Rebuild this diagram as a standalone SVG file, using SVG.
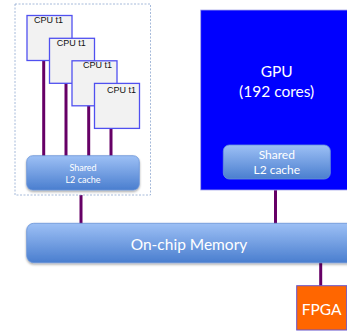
<svg xmlns="http://www.w3.org/2000/svg" width="347" height="333" viewBox="0 0 347 333">
  <style>
    .cpu { fill: #f2f2f2; stroke: #5050f0; stroke-width: 1.3; }
    .cpu-label { font-family: "Liberation Sans", Arial, sans-serif; font-size: 9px; fill: #111; }
    .bus { stroke: #660066; stroke-width: 3; fill: none; }
    .cache { fill: url(#blueGrad); stroke: #6a94d8; stroke-width: 0.8; }
    .white { font-family: Lato, "Open Sans", sans-serif; fill: #ffffff; text-anchor: middle; }
  </style>
  <defs>
    <linearGradient id="blueGrad" x1="0" y1="0" x2="0" y2="1">
      <stop offset="0" stop-color="#9dc0f5"/>
      <stop offset="1" stop-color="#4a7ecf"/>
    </linearGradient>
    <filter id="shadow" x="-5%" y="-20%" width="110%" height="150%">
      <feDropShadow dx="0" dy="1.5" stdDeviation="1.2" flood-color="#000" flood-opacity="0.35"/>
    </filter>
  </defs>

  <rect width="347" height="333" fill="#ffffff"/>

  <!-- connectors -->
  <g id="connectors">
    <line class="bus" x1="43.7" y1="60" x2="43.7" y2="156"/>
    <line class="bus" x1="66" y1="83" x2="66" y2="156"/>
    <line class="bus" x1="88.7" y1="105" x2="88.7" y2="156"/>
    <line class="bus" x1="111" y1="128" x2="111" y2="156"/>
    <line class="bus" x1="81" y1="195" x2="81" y2="224"/>
    <line class="bus" x1="275.5" y1="190" x2="275.5" y2="224"/>
    <line class="bus" x1="320.7" y1="262" x2="320.7" y2="286"/>
  </g>

  <!-- CPU cluster -->
  <g id="cpu-cluster">
    <rect x="15" y="4" width="135.5" height="191" fill="none" stroke="#8fa8d0" stroke-width="0.8" stroke-dasharray="2,1.5"/>
  </g>
  <g id="cpu1">
    <rect class="cpu" x="27" y="15.5" width="45" height="45"/>
    <text class="cpu-label" x="34" y="23">CPU t1</text>
  </g>
  <g id="cpu2">
    <rect class="cpu" x="49.5" y="38.3" width="45" height="45"/>
    <text class="cpu-label" x="56.7" y="45.7">CPU t1</text>
  </g>
  <g id="cpu3">
    <rect class="cpu" x="72" y="60.8" width="45" height="45"/>
    <text class="cpu-label" x="83" y="68">CPU t1</text>
  </g>
  <g id="cpu4">
    <rect class="cpu" x="94.5" y="83.4" width="45" height="45"/>
    <text class="cpu-label" x="107" y="92.5">CPU t1</text>
  </g>
  <g id="cpu-l2">
    <rect class="cache" x="26.7" y="155.7" width="112.6" height="34.3" rx="6" filter="url(#shadow)"/>
    <text class="white" x="83" y="171" font-size="9">Shared</text>
    <text class="white" x="83" y="182.7" font-size="9">L2 cache</text>
  </g>

  <!-- GPU -->
  <g id="gpu">
    <rect x="200.7" y="10" width="150" height="180" fill="#0000ff" stroke="#a8a8e8" stroke-width="0.8"/>
    <text class="white" x="276.7" y="76.7" font-size="15.5">GPU</text>
    <text class="white" x="276.7" y="96.7" font-size="15.5">(192 cores)</text>
  </g>
  <g id="gpu-l2">
    <rect class="cache" x="223.3" y="145" width="107" height="34" rx="6"/>
    <text class="white" x="276.8" y="159.3" font-size="12">Shared</text>
    <text class="white" x="276.8" y="174" font-size="12">L2 cache</text>
  </g>

  <!-- memory -->
  <g id="memory">
    <rect x="26.7" y="223.3" width="340" height="39.4" rx="7" fill="url(#blueGrad)" stroke="#6a94d8" stroke-width="0.8" filter="url(#shadow)"/>
    <text class="white" x="189" y="250" font-size="15.5">On-chip Memory</text>
  </g>

  <!-- FPGA -->
  <g id="fpga">
    <rect x="296.7" y="285.7" width="50" height="44.3" fill="#ff6600" stroke="#6655cc" stroke-width="1"/>
    <text class="white" x="321.7" y="315" font-size="15.5">FPGA</text>
  </g>
</svg>
